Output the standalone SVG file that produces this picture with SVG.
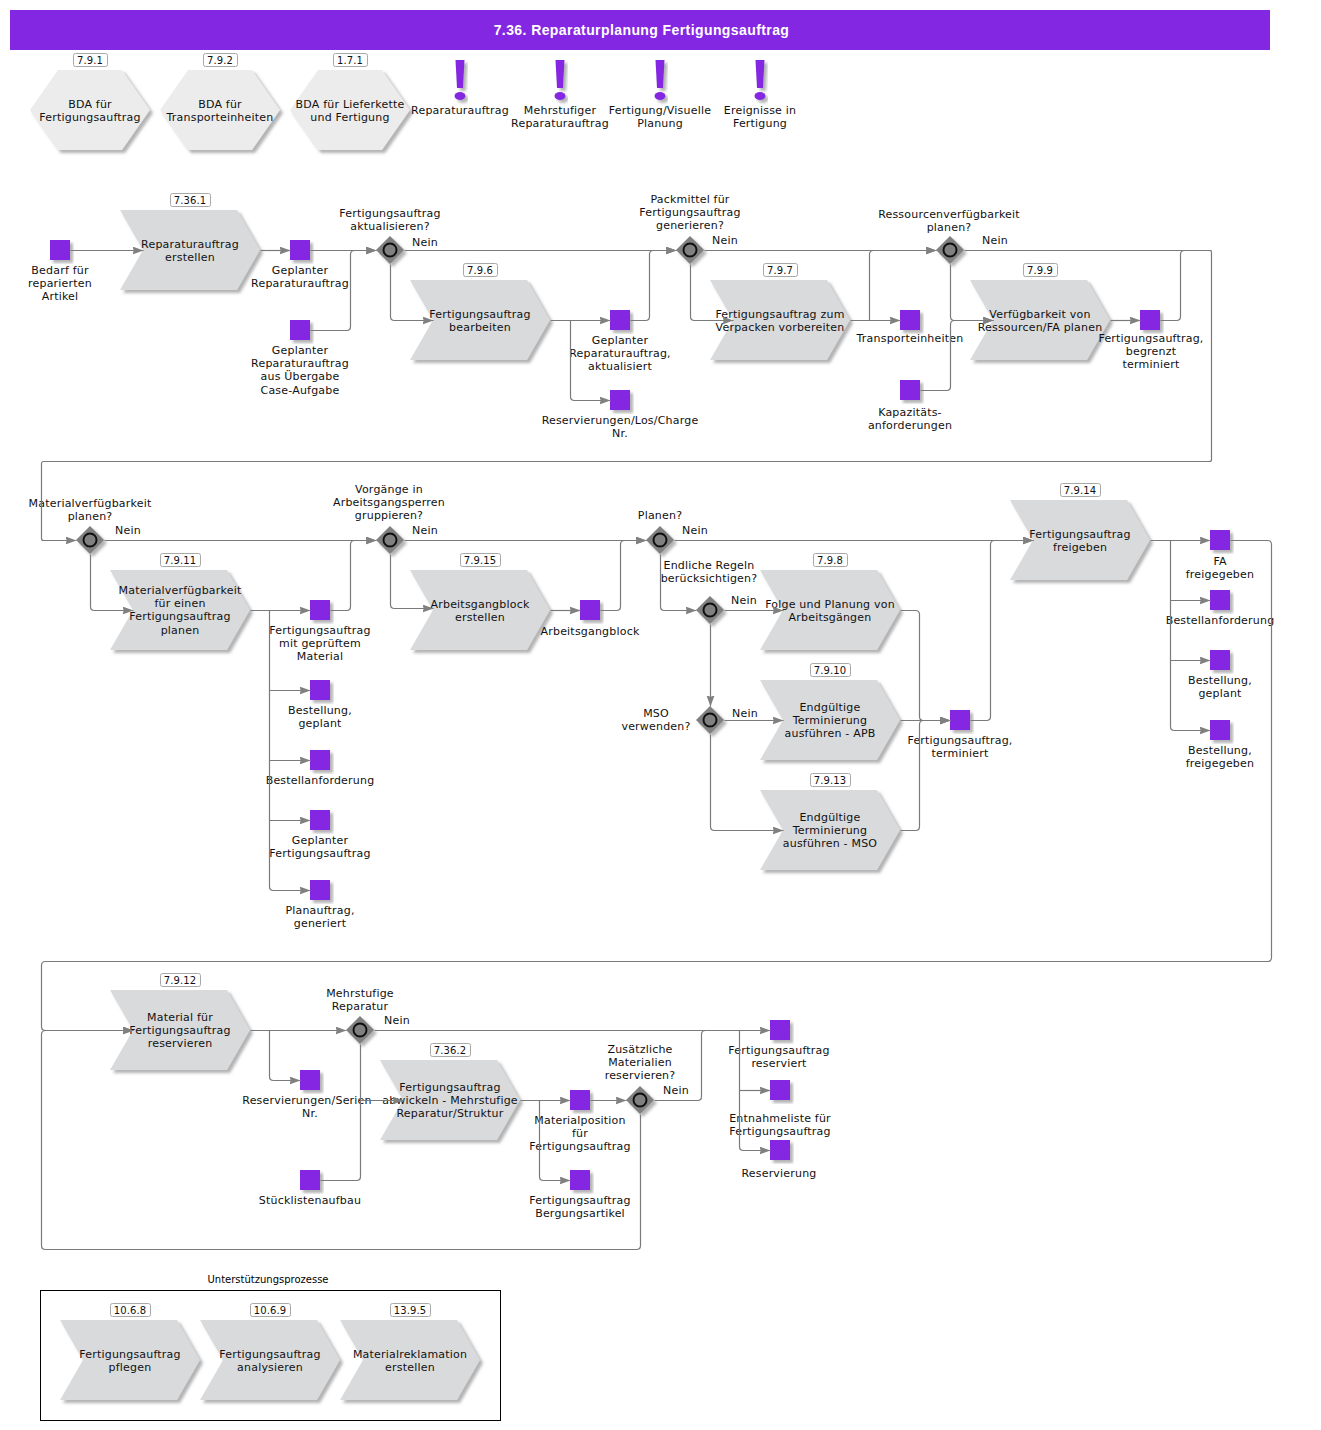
<svg xmlns="http://www.w3.org/2000/svg" width="1321" height="1430" viewBox="0 0 1321 1430">
<style>
text{font-family:"DejaVu Sans",sans-serif;font-size:11px;letter-spacing:.2px;fill:#111;text-anchor:middle}
text.b{font-size:10px;letter-spacing:.1px}
.bd{fill:#fff;stroke:#a8a8a8;stroke-width:1}
.p{fill:#d9dadc}
.h{fill:#ececec}
.s{fill:#8427e2}
.d{fill:#808080}
.o{fill:#808080;stroke:#111;stroke-width:2}
.c{fill:none;stroke:#7a7a7a;stroke-width:1.2}
.a{marker-end:url(#ar)}
.ex{fill:#8427e2}
</style>
<defs>
<filter id="sh" x="-15%" y="-15%" width="135%" height="135%"><feDropShadow dx="3" dy="3" stdDeviation="1.6" flood-color="#8a8a8a" flood-opacity="0.65"/></filter>
<marker id="ar" markerUnits="userSpaceOnUse" markerWidth="12" markerHeight="9" refX="11" refY="4" orient="auto"><path d="M0 0L11 4L0 8L1.200 4Z" fill="#808080"/></marker>
<polygon id="proc" class="p" points="0,0 117,0 140,40 117,80 0,80 23,40"/>
<polygon id="hex" class="h" points="0,40 28,0 92,0 120,40 92,80 28,80"/>
<rect id="sq" class="s" width="20" height="20"/>
<g id="dia"><polygon class="d" points="0,-14 14,0 0,14 -14,0"/><circle class="o" r="6.5"/></g>
<g id="bang"><path class="ex" d="M-4.500 0H4.500L3 28H-3Z"/><ellipse class="ex" cx="0" cy="36" rx="5.500" ry="4"/></g>
</defs>
<rect x="10" y="10" width="1260" height="40" fill="#8427e2"/>
<text x="641.500" y="35" style="font-family:'Liberation Sans',Arial,sans-serif;font-size:14px;font-weight:bold;letter-spacing:.41px;fill:#fff">7.36. Reparaturplanung Fertigungsauftrag</text>

<g id="h1"><use href="#hex" x="30" y="70" filter="url(#sh)"/><rect class="bd" x="73.500" y="53.500" width="34" height="13" rx="2"/><text class="b" x="90" y="64">7.9.1</text><text x="90" y="108">BDA für</text><text x="90" y="121">Fertigungsauftrag</text></g>
<g id="h2"><use href="#hex" x="160" y="70" filter="url(#sh)"/><rect class="bd" x="203.500" y="53.500" width="34" height="13" rx="2"/><text class="b" x="220" y="64">7.9.2</text><text x="220" y="108">BDA für</text><text x="220" y="121">Transporteinheiten</text></g>
<g id="h3"><use href="#hex" x="290" y="70" filter="url(#sh)"/><rect class="bd" x="333.500" y="53.500" width="34" height="13" rx="2"/><text class="b" x="350" y="64">1.7.1</text><text x="350" y="108">BDA für Lieferkette</text><text x="350" y="121">und Fertigung</text></g>
<g id="e1"><use href="#bang" x="460" y="60" filter="url(#sh)"/><text x="460" y="114">Reparaturauftrag</text></g>
<g id="e2"><use href="#bang" x="560" y="60" filter="url(#sh)"/><text x="560" y="114">Mehrstufiger</text><text x="560" y="127">Reparaturauftrag</text></g>
<g id="e3"><use href="#bang" x="660" y="60" filter="url(#sh)"/><text x="660" y="114">Fertigung/Visuelle</text><text x="660" y="127">Planung</text></g>
<g id="e4"><use href="#bang" x="760" y="60" filter="url(#sh)"/><text x="760" y="114">Ereignisse in</text><text x="760" y="127">Fertigung</text></g>

<g id="s1"><use href="#sq" x="50" y="240" filter="url(#sh)"/><text x="60" y="274">Bedarf für</text><text x="60" y="287">reparierten</text><text x="60" y="300">Artikel</text></g>
<g id="p1"><use href="#proc" x="120" y="210" filter="url(#sh)"/><rect class="bd" x="170.500" y="193.500" width="40" height="13" rx="2"/><text class="b" x="190" y="204">7.36.1</text><text x="190" y="248">Reparaturauftrag</text><text x="190" y="261">erstellen</text></g>
<g id="s2"><use href="#sq" x="290" y="240" filter="url(#sh)"/><text x="300" y="274">Geplanter</text><text x="300" y="287">Reparaturauftrag</text></g>
<g id="s3"><use href="#sq" x="290" y="320" filter="url(#sh)"/><text x="300" y="354">Geplanter</text><text x="300" y="367">Reparaturauftrag</text><text x="300" y="380">aus Übergabe</text><text x="300" y="394">Case-Aufgabe</text></g>
<g id="d1"><use href="#dia" x="390" y="250" filter="url(#sh)"/><text x="390" y="217">Fertigungsauftrag</text><text x="390" y="230">aktualisieren?</text><text x="425" y="246">Nein</text></g>
<g id="p2"><use href="#proc" x="410" y="280" filter="url(#sh)"/><rect class="bd" x="463.500" y="263.500" width="34" height="13" rx="2"/><text class="b" x="480" y="274">7.9.6</text><text x="480" y="318">Fertigungsauftrag</text><text x="480" y="331">bearbeiten</text></g>
<g id="s4"><use href="#sq" x="610" y="310" filter="url(#sh)"/><text x="620" y="344">Geplanter</text><text x="620" y="357">Reparaturauftrag,</text><text x="620" y="370">aktualisiert</text></g>
<g id="s5"><use href="#sq" x="610" y="390" filter="url(#sh)"/><text x="620" y="424">Reservierungen/Los/Charge</text><text x="620" y="437">Nr.</text></g>
<g id="d2"><use href="#dia" x="690" y="250" filter="url(#sh)"/><text x="690" y="203">Packmittel für</text><text x="690" y="216">Fertigungsauftrag</text><text x="690" y="229">generieren?</text><text x="725" y="244">Nein</text></g>
<g id="p3"><use href="#proc" x="710" y="280" filter="url(#sh)"/><rect class="bd" x="763.500" y="263.500" width="34" height="13" rx="2"/><text class="b" x="780" y="274">7.9.7</text><text x="780" y="318">Fertigungsauftrag zum</text><text x="780" y="331">Verpacken vorbereiten</text></g>
<g id="s6"><use href="#sq" x="900" y="310" filter="url(#sh)"/><text x="910" y="342">Transporteinheiten</text></g>
<g id="s7"><use href="#sq" x="900" y="380" filter="url(#sh)"/><text x="910" y="416">Kapazitäts-</text><text x="910" y="429">anforderungen</text></g>
<g id="d3"><use href="#dia" x="950" y="250" filter="url(#sh)"/><text x="949" y="218">Ressourcenverfügbarkeit</text><text x="949" y="231">planen?</text><text x="995" y="244">Nein</text></g>
<g id="p4"><use href="#proc" x="970" y="280" filter="url(#sh)"/><rect class="bd" x="1023.500" y="263.500" width="34" height="13" rx="2"/><text class="b" x="1040" y="274">7.9.9</text><text x="1040" y="318">Verfügbarkeit von</text><text x="1040" y="331">Ressourcen/FA planen</text></g>
<g id="s8"><use href="#sq" x="1140" y="310" filter="url(#sh)"/><text x="1151" y="342">Fertigungsauftrag,</text><text x="1151" y="355">begrenzt</text><text x="1151" y="368">terminiert</text></g>

<g id="d4"><use href="#dia" x="90" y="540" filter="url(#sh)"/><text x="90" y="507">Materialverfügbarkeit</text><text x="90" y="520">planen?</text><text x="128" y="534">Nein</text></g>
<g id="p5"><use href="#proc" x="110" y="570" filter="url(#sh)"/><rect class="bd" x="160.500" y="553.500" width="40" height="13" rx="2"/><text class="b" x="180" y="564">7.9.11</text><text x="180" y="594">Materialverfügbarkeit</text><text x="180" y="607">für einen</text><text x="180" y="620">Fertigungsauftrag</text><text x="180" y="634">planen</text></g>
<g id="s9"><use href="#sq" x="310" y="600" filter="url(#sh)"/><text x="320" y="634">Fertigungsauftrag</text><text x="320" y="647">mit geprüftem</text><text x="320" y="660">Material</text></g>
<g id="s10"><use href="#sq" x="310" y="680" filter="url(#sh)"/><text x="320" y="714">Bestellung,</text><text x="320" y="727">geplant</text></g>
<g id="s11"><use href="#sq" x="310" y="750" filter="url(#sh)"/><text x="320" y="784">Bestellanforderung</text></g>
<g id="s12"><use href="#sq" x="310" y="810" filter="url(#sh)"/><text x="320" y="844">Geplanter</text><text x="320" y="857">Fertigungsauftrag</text></g>
<g id="s13"><use href="#sq" x="310" y="880" filter="url(#sh)"/><text x="320" y="914">Planauftrag,</text><text x="320" y="927">generiert</text></g>
<g id="d5"><use href="#dia" x="390" y="540" filter="url(#sh)"/><text x="389" y="493">Vorgänge in</text><text x="389" y="506">Arbeitsgangsperren</text><text x="389" y="519">gruppieren?</text><text x="425" y="534">Nein</text></g>
<g id="p6"><use href="#proc" x="410" y="570" filter="url(#sh)"/><rect class="bd" x="460.500" y="553.500" width="40" height="13" rx="2"/><text class="b" x="480" y="564">7.9.15</text><text x="480" y="608">Arbeitsgangblock</text><text x="480" y="621">erstellen</text></g>
<g id="s14"><use href="#sq" x="580" y="600" filter="url(#sh)"/><text x="590" y="635">Arbeitsgangblock</text></g>
<g id="d6"><use href="#dia" x="660" y="540" filter="url(#sh)"/><text x="660" y="519">Planen?</text><text x="695" y="534">Nein</text></g>
<g id="d7"><use href="#dia" x="710" y="610" filter="url(#sh)"/><text x="709" y="569">Endliche Regeln</text><text x="709" y="582">berücksichtigen?</text><text x="744" y="604">Nein</text></g>
<g id="p7"><use href="#proc" x="760" y="570" filter="url(#sh)"/><rect class="bd" x="813.500" y="553.500" width="34" height="13" rx="2"/><text class="b" x="830" y="564">7.9.8</text><text x="830" y="608">Folge und Planung von</text><text x="830" y="621">Arbeitsgängen</text></g>
<g id="d8"><use href="#dia" x="710" y="720" filter="url(#sh)"/><text x="656" y="717">MSO</text><text x="656" y="730">verwenden?</text><text x="745" y="717">Nein</text></g>
<g id="p8"><use href="#proc" x="760" y="680" filter="url(#sh)"/><rect class="bd" x="810.500" y="663.500" width="40" height="13" rx="2"/><text class="b" x="830" y="674">7.9.10</text><text x="830" y="711">Endgültige</text><text x="830" y="724">Terminierung</text><text x="830" y="737">ausführen - APB</text></g>
<g id="p9"><use href="#proc" x="760" y="790" filter="url(#sh)"/><rect class="bd" x="810.500" y="773.500" width="40" height="13" rx="2"/><text class="b" x="830" y="784">7.9.13</text><text x="830" y="821">Endgültige</text><text x="830" y="834">Terminierung</text><text x="830" y="847">ausführen - MSO</text></g>
<g id="s15"><use href="#sq" x="950" y="710" filter="url(#sh)"/><text x="960" y="744">Fertigungsauftrag,</text><text x="960" y="757">terminiert</text></g>
<g id="p10"><use href="#proc" x="1010" y="500" filter="url(#sh)"/><rect class="bd" x="1060.500" y="483.500" width="40" height="13" rx="2"/><text class="b" x="1080" y="494">7.9.14</text><text x="1080" y="538">Fertigungsauftrag</text><text x="1080" y="551">freigeben</text></g>
<g id="s16"><use href="#sq" x="1210" y="530" filter="url(#sh)"/><text x="1220" y="565">FA</text><text x="1220" y="578">freigegeben</text></g>
<g id="s17"><use href="#sq" x="1210" y="590" filter="url(#sh)"/><text x="1220" y="624">Bestellanforderung</text></g>
<g id="s18"><use href="#sq" x="1210" y="650" filter="url(#sh)"/><text x="1220" y="684">Bestellung,</text><text x="1220" y="697">geplant</text></g>
<g id="s19"><use href="#sq" x="1210" y="720" filter="url(#sh)"/><text x="1220" y="754">Bestellung,</text><text x="1220" y="767">freigegeben</text></g>

<g id="p11"><use href="#proc" x="110" y="990" filter="url(#sh)"/><rect class="bd" x="160.500" y="973.500" width="40" height="13" rx="2"/><text class="b" x="180" y="984">7.9.12</text><text x="180" y="1021">Material für</text><text x="180" y="1034">Fertigungsauftrag</text><text x="180" y="1047">reservieren</text></g>
<g id="d9"><use href="#dia" x="360" y="1030" filter="url(#sh)"/><text x="360" y="997">Mehrstufige</text><text x="360" y="1010">Reparatur</text><text x="397" y="1024">Nein</text></g>
<g id="s20"><use href="#sq" x="300" y="1070" filter="url(#sh)"/><text x="307" y="1104">Reservierungen/Serien</text><text x="310" y="1117">Nr.</text></g>
<g id="s21"><use href="#sq" x="300" y="1170" filter="url(#sh)"/><text x="310" y="1204">Stücklistenaufbau</text></g>
<g id="p12"><use href="#proc" x="380" y="1060" filter="url(#sh)"/><rect class="bd" x="430.500" y="1043.500" width="40" height="13" rx="2"/><text class="b" x="450" y="1054">7.36.2</text><text x="450" y="1091">Fertigungsauftrag</text><text x="450" y="1104">abwickeln - Mehrstufige</text><text x="450" y="1117">Reparatur/Struktur</text></g>
<g id="s22"><use href="#sq" x="570" y="1090" filter="url(#sh)"/><text x="580" y="1124">Materialposition</text><text x="580" y="1137">für</text><text x="580" y="1150">Fertigungsauftrag</text></g>
<g id="s23"><use href="#sq" x="570" y="1170" filter="url(#sh)"/><text x="580" y="1204">Fertigungsauftrag</text><text x="580" y="1217">Bergungsartikel</text></g>
<g id="d10"><use href="#dia" x="640" y="1100" filter="url(#sh)"/><text x="640" y="1053">Zusätzliche</text><text x="640" y="1066">Materialien</text><text x="640" y="1079">reservieren?</text><text x="676" y="1094">Nein</text></g>
<g id="s24"><use href="#sq" x="770" y="1020" filter="url(#sh)"/><text x="779" y="1054">Fertigungsauftrag</text><text x="779" y="1067">reserviert</text></g>
<g id="s25"><use href="#sq" x="770" y="1080" filter="url(#sh)"/><text x="780" y="1122">Entnahmeliste für</text><text x="780" y="1135">Fertigungsauftrag</text></g>
<g id="s26"><use href="#sq" x="770" y="1140" filter="url(#sh)"/><text x="779" y="1177">Reservierung</text></g>

<g id="support"><rect x="40.500" y="1290.500" width="460" height="130" fill="none" stroke="#000"/><text x="268" y="1283" style="font-family:'DejaVu Sans',sans-serif;font-size:10px;letter-spacing:0;fill:#000">Unterstützungsprozesse</text></g>
<g id="p13"><use href="#proc" x="60" y="1320" filter="url(#sh)"/><rect class="bd" x="110.500" y="1303.500" width="40" height="13" rx="2"/><text class="b" x="130" y="1314">10.6.8</text><text x="130" y="1358">Fertigungsauftrag</text><text x="130" y="1371">pflegen</text></g>
<g id="p14"><use href="#proc" x="200" y="1320" filter="url(#sh)"/><rect class="bd" x="250.500" y="1303.500" width="40" height="13" rx="2"/><text class="b" x="270" y="1314">10.6.9</text><text x="270" y="1358">Fertigungsauftrag</text><text x="270" y="1371">analysieren</text></g>
<g id="p15"><use href="#proc" x="340" y="1320" filter="url(#sh)"/><rect class="bd" x="390.500" y="1303.500" width="40" height="13" rx="2"/><text class="b" x="410" y="1314">13.9.5</text><text x="410" y="1358">Materialreklamation</text><text x="410" y="1371">erstellen</text></g>

<g id="connectors" transform="translate(.5 .5)">
<path class="c a" d="M70 250H143"/>
<path class="c a" d="M260 250H290"/>
<path class="c a" d="M310 250H376"/>
<path class="c a" d="M310 330H346Q350 330 350 326V254Q350 250 354 250H376"/>
<path class="c a" d="M404 250H676"/>
<path class="c a" d="M390 264V316Q390 320 394 320H433"/>
<path class="c a" d="M550 320H610"/>
<path class="c a" d="M570 320V396Q570 400 574 400H610"/>
<path class="c a" d="M630 320H645Q649 320 649 316V254Q649 250 653 250H676"/>
<path class="c a" d="M704 250H936"/>
<path class="c a" d="M690 264V316Q690 320 694 320H733"/>
<path class="c a" d="M850 320H900"/>
<path class="c a" d="M869 320V254Q869 250 873 250H936"/>
<path class="c a" d="M920 390H946Q950 390 950 386V324Q950 320 954 320H993"/>
<path class="c a" d="M950 264V316Q950 320 954 320H993"/>
<path class="c a" d="M1110 320H1140"/>
<path class="c" d="M1160 320H1176Q1180 320 1180 316V254Q1180 250 1184 250H1211"/>
<path class="c a" d="M964 250H1209Q1211 250 1211 252V459Q1211 461 1209 461H43Q41 461 41 463V538Q41 540 43 540H76"/>
<path class="c a" d="M104 540H376"/>
<path class="c a" d="M90 554V606Q90 610 94 610H133"/>
<path class="c a" d="M250 610H310"/>
<path class="c a" d="M269 610V886Q269 890 273 890H310"/>
<path class="c a" d="M269 690H310"/>
<path class="c a" d="M269 760H310"/>
<path class="c a" d="M269 820H310"/>
<path class="c a" d="M330 610H346Q350 610 350 606V544Q350 540 354 540H376"/>
<path class="c a" d="M404 540H646"/>
<path class="c a" d="M390 554V604Q390 608 394 608H433"/>
<path class="c a" d="M550 610H580"/>
<path class="c a" d="M600 610H616Q620 610 620 606V544Q620 540 624 540H646"/>
<path class="c a" d="M674 540H1033"/>
<path class="c a" d="M660 554V606Q660 610 664 610H696"/>
<path class="c a" d="M724 610H783"/>
<path class="c a" d="M710 624V706"/>
<path class="c a" d="M724 720H783"/>
<path class="c a" d="M710 734V826Q710 830 714 830H783"/>
<path class="c a" d="M900 610H915Q919 610 919 614V716Q919 720 923 720H950"/>
<path class="c a" d="M900 720H950"/>
<path class="c a" d="M900 830H915Q919 830 919 826V724Q919 720 923 720H950"/>
<path class="c a" d="M970 720H986Q990 720 990 716V544Q990 540 994 540H1033"/>
<path class="c a" d="M1150 540H1210"/>
<path class="c a" d="M1170 540V726Q1170 730 1174 730H1210"/>
<path class="c a" d="M1170 600H1210"/>
<path class="c a" d="M1170 660H1210"/>
<path class="c a" d="M1230 540H1267Q1271 540 1271 544V957Q1271 961 1267 961H45Q41 961 41 965V1026Q41 1030 45 1030H133"/>
<path class="c a" d="M640 1114V1245Q640 1249 636 1249H45Q41 1249 41 1245V1034Q41 1030 45 1030H133"/>
<path class="c a" d="M250 1030H346"/>
<path class="c a" d="M269 1030V1076Q269 1080 273 1080H300"/>
<path class="c a" d="M374 1030H770"/>
<path class="c" d="M360 1044V1176Q360 1180 356 1180H320"/>
<path class="c a" d="M360 1100H403"/>
<path class="c a" d="M520 1100H570"/>
<path class="c a" d="M539 1100V1176Q539 1180 543 1180H570"/>
<path class="c a" d="M590 1100H626"/>
<path class="c" d="M654 1100H697Q701 1100 701 1096V1034Q701 1030 705 1030H739"/>
<path class="c a" d="M739 1030V1146Q739 1150 743 1150H770"/>
<path class="c a" d="M739 1090H770"/>
</g>
</svg>
